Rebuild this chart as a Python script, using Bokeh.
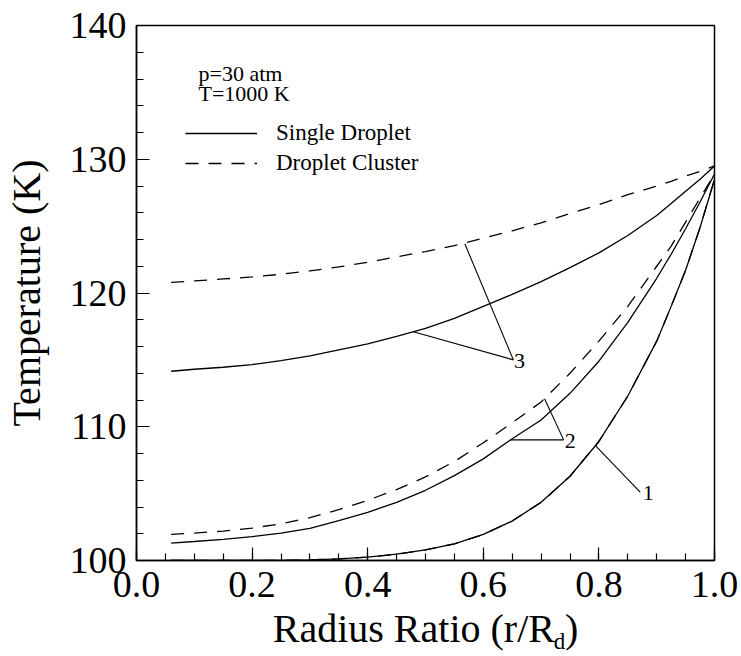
from bokeh.plotting import figure
from bokeh.models import (Range1d, SingleIntervalTicker, FixedTicker, PrintfTickFormatter,
                          CustomJSTickFormatter, Label, Legend, LegendItem, LinearAxis)
from bokeh.embed import file_html
from bokeh.resources import INLINE

# ---------------- data ----------------
radius_ratio = [0.06, 0.10, 0.15, 0.20, 0.25, 0.30, 0.35, 0.40, 0.45, 0.50, 0.55,
                0.60, 0.65, 0.70, 0.75, 0.80, 0.85, 0.90, 0.925, 0.95, 0.975, 1.00]

# case 1
t1_single = [100.0, 100.0, 100.0, 100.0, 100.01, 100.04, 100.12, 100.25, 100.47, 100.8, 101.25,
             101.95, 102.95, 104.35, 106.3, 108.9, 112.3, 116.4, 119.0, 121.7, 124.9, 128.5]
t1_cluster = [100.0, 100.0, 100.0, 100.0, 100.01, 100.04, 100.12, 100.25, 100.47, 100.8, 101.25,
              101.95, 102.95, 104.35, 106.3, 108.9, 112.3, 116.4, 119.0, 121.7, 124.9, 128.5]
# case 2
t2_single = [101.3, 101.42, 101.58, 101.78, 102.05, 102.4, 102.98, 103.6, 104.35, 105.25, 106.35,
             107.6, 109.1, 110.5, 112.5, 114.9, 117.8, 121.1, 122.9, 124.8, 126.8, 128.9]
t2_cluster = [101.95, 102.05, 102.2, 102.42, 102.75, 103.2, 103.8, 104.5, 105.3, 106.25, 107.4,
              108.8, 110.3, 111.85, 114.0, 116.4, 119.0, 122.0, 123.5, 125.3, 127.1, 128.9]
# case 3
t3_single = [114.15, 114.3, 114.45, 114.65, 114.95, 115.3, 115.75, 116.2, 116.75, 117.35, 118.1,
             119.0, 119.9, 120.85, 121.9, 123.0, 124.3, 125.8, 126.7, 127.6, 128.5, 129.5]
t3_cluster = [120.8, 120.9, 121.05, 121.2, 121.4, 121.65, 121.95, 122.3, 122.7, 123.1, 123.55,
              124.1, 124.65, 125.25, 125.95, 126.6, 127.35, 128.0, 128.35, 128.75, 129.1, 129.5]

# leader lines for the case numbers (x0, y0) -> (x1, y1)
leader_x0 = [0.568, 0.479, 0.706, 0.6465, 0.7936]
leader_y0 = [123.68, 117.1, 112.09, 109.02, 108.6]
leader_x1 = [0.652, 0.652, 0.739, 0.739, 0.8714]
leader_y1 = [115.0, 115.0, 109.02, 109.02, 105.11]

case_labels = ["3", "2", "1"]
case_label_x = [0.653, 0.741, 0.876]
case_label_y = [114.9, 108.9, 105.05]

condition_lines = ["p=30 atm", "T=1000 K"]
condition_x = 0.1073
condition_y = [136.41, 134.91]
series_names = ["Single Droplet", "Droplet Cluster"]
x_title_main = "Radius Ratio (r/R )"
x_title_sub = "d"
x_title_sub_pos = 0.732
y_title = "Temperature (K)"

FONT = "Liberation Serif"
DASH = "13 10"

p = figure(frame_width=578, frame_height=535,
           min_border_left=133, min_border_right=30, min_border_top=25, min_border_bottom=0,
           x_range=Range1d(0, 1), y_range=Range1d(100, 140),
           output_backend="svg", toolbar_location=None)

p.xgrid.visible = False
p.ygrid.visible = False
p.outline_line_color = "black"
p.outline_line_width = 1.5
p.background_fill_color = "white"
p.border_fill_color = "white"

# axes
xa = p.xaxis[0]
xa.ticker = SingleIntervalTicker(interval=0.2, num_minor_ticks=4)
xa.formatter = PrintfTickFormatter(format="%.1f")
ya = p.yaxis[0]
ya.ticker = SingleIntervalTicker(interval=10, num_minor_ticks=5)
ya.formatter = PrintfTickFormatter(format="%d")
for ax in (xa, ya):
    ax.axis_line_color = "black"
    ax.axis_line_width = 1.5
    ax.major_tick_in = 13
    ax.major_tick_out = 0
    ax.minor_tick_in = 7
    ax.minor_tick_out = 0
    ax.major_tick_line_color = "black"
    ax.minor_tick_line_color = "black"
    ax.major_tick_line_width = 1.2
    ax.minor_tick_line_width = 1.2
    ax.major_label_text_font = FONT
    ax.major_label_text_font_size = "38px"
    ax.major_label_text_color = "black"
    ax.axis_label_text_font = FONT
    ax.axis_label_text_font_size = "40px"
    ax.axis_label_text_font_style = "normal"
    ax.axis_label_text_color = "black"
xa.major_label_standoff = 11
xa.axis_label = x_title_main
xa.axis_label_standoff = 6
ya.major_label_standoff = 10
ya.axis_label = y_title
ya.axis_label_standoff = 18

# subscript "d" of the x title, drawn as the single label of an extra bare axis
sub_axis = LinearAxis(ticker=FixedTicker(ticks=[x_title_sub_pos]),
                      formatter=CustomJSTickFormatter(code="return '%s';" % x_title_sub),
                      axis_line_color=None, major_tick_in=0, major_tick_out=0,
                      minor_tick_in=0, minor_tick_out=0,
                      major_label_standoff=-25,
                      major_label_text_font=FONT, major_label_text_font_size="23px",
                      major_label_text_color="black")
p.add_layout(sub_axis, "below")

# curves
lw = 1.3
r3s = p.line(radius_ratio, t3_single, line_color="black", line_width=lw)
r3c = p.line(radius_ratio, t3_cluster, line_color="black", line_width=lw, line_dash=DASH)
p.line(radius_ratio, t2_single, line_color="black", line_width=lw)
p.line(radius_ratio, t2_cluster, line_color="black", line_width=lw, line_dash=DASH)
p.line(radius_ratio, t1_single, line_color="black", line_width=lw)
p.line(radius_ratio, t1_cluster, line_color="black", line_width=lw, line_dash=DASH)

# leader lines and case numbers
p.segment(x0=leader_x0, y0=leader_y0, x1=leader_x1, y1=leader_y1,
          line_color="black", line_width=1.1)
for t, x, y in zip(case_labels, case_label_x, case_label_y):
    p.add_layout(Label(x=x, y=y, text=t, text_font=FONT, text_font_size="22px",
                       text_align="left", text_baseline="middle", text_color="black"))

# condition text
for t, y in zip(condition_lines, condition_y):
    p.add_layout(Label(x=condition_x, y=y, text=t, text_font=FONT,
                       text_font_size="22px", text_baseline="alphabetic", text_color="black"))

# legend
legend = Legend(items=[LegendItem(label=series_names[0], renderers=[r3s]),
                       LegendItem(label=series_names[1], renderers=[r3c])],
                location=(49, 384), orientation="vertical",
                padding=0, margin=0, spacing=4,
                glyph_width=72, glyph_height=20, label_height=20, label_standoff=19,
                label_text_font=FONT, label_text_font_size="23px", label_text_color="black",
                border_line_color=None, background_fill_alpha=0)
p.add_layout(legend)

open("out.html", "w").write(file_html(p, INLINE))
